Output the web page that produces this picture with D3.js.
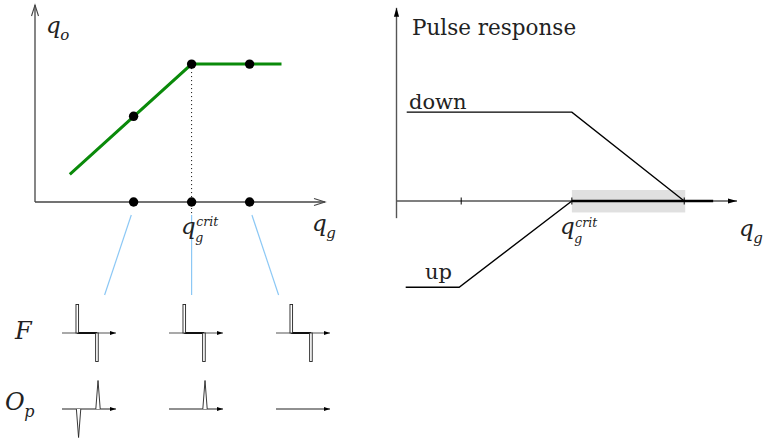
<!DOCTYPE html>
<html><head><meta charset="utf-8">
<script src="https://cdn.jsdelivr.net/npm/d3@7"></script>
<style>body{margin:0;background:#fff} svg{display:block} text{font-family:"DejaVu Serif", serif;}</style>
</head><body>
<script>
// ---------------- data ----------------
// left panel: output charge q_o versus gate charge q_g
const curveQg = [1.2, 5.4, 8.5];
const curveQo = [1.4, 7.0, 7.0];
const sampleQg = [3.4, 5.4, 7.4];
const sampleQo = [4.35, 7.0, 7.0];
const critQg = 5.4;
// right panel: pulse response versus q_g
const rightTicks = [1.9, 5.15, 8.45];
const downQg = [0.3, 5.15, 8.45];
const downResp = [2.02, 2.02, 0];
const upQg = [0.27, 1.84, 5.15];
const upResp = [-1.96, -1.96, 0];
const bandQg = [5.15, 8.48];
const stableQg = [5.15, 9.3];
// bottom mini plots (one per sample point)
const fPulseT = [0.283, 0.647];
const fPulseA = [1, -1];
const opSpikes = [
  [{t: 0.307, a: -1}, {t: 0.667, a: 1}],
  [{t: 0.667, a: 1}],
  []
];
const rowLabels = ["F", "O"];

// ---------------- drawing ----------------
const W = 764, H = 441;
const svg = d3.select("body").append("svg").attr("width", W).attr("height", H);

const defs = svg.append("defs");
defs.append("marker").attr("id", "open").attr("viewBox", "-12 -5 14 10")
  .attr("refX", 0).attr("refY", 0).attr("markerWidth", 14).attr("markerHeight", 10)
  .attr("markerUnits", "userSpaceOnUse").attr("orient", "auto")
  .append("path").attr("d", "M-11,-3.5 L0,0 L-11,3.5").attr("fill", "none")
  .attr("stroke", "#444").attr("stroke-width", 1.1);
defs.append("marker").attr("id", "fill").attr("viewBox", "-10 -4 12 8")
  .attr("refX", 0).attr("refY", 0).attr("markerWidth", 12).attr("markerHeight", 8)
  .attr("markerUnits", "userSpaceOnUse").attr("orient", "auto")
  .append("path").attr("d", "M-9,-2.6 L0,0 L-9,2.6 Z").attr("fill", "#000");
defs.append("marker").attr("id", "small").attr("viewBox", "-7 -3 8 6")
  .attr("refX", 0).attr("refY", 0).attr("markerWidth", 8).attr("markerHeight", 6)
  .attr("markerUnits", "userSpaceOnUse").attr("orient", "auto")
  .append("path").attr("d", "M-6,-2 L0,0 L-6,2 Z").attr("fill", "#000");

function mathLabel(x, y, base, sub, sup, size, subSize) {
  const ss = subSize || size * 0.68;
  const t = svg.append("text").attr("x", x).attr("y", y)
    .style("font-style", "italic").style("font-size", size + "px").attr("fill", "#222");
  t.append("tspan").text(base);
  const bw = t.node().getComputedTextLength();
  if (sup) t.append("tspan").attr("x", x + bw + 0.5).attr("y", y - 7.5)
      .style("font-size", ss + "px").text(sup);
  if (sub) t.append("tspan").attr("x", x + bw - 0.5).attr("y", y + (sup ? 8.5 : 6.5))
      .style("font-size", ss + "px").text(sub);
  return t;
}

// ----- left panel -----
const xL = d3.scaleLinear().domain([0, 10]).range([35, 325]);
const yL = d3.scaleLinear().domain([0, 10]).range([202, 5]);
const gL = svg.append("g");
gL.append("line").attr("x1", xL(0)).attr("x2", xL(10)).attr("y1", yL(0)).attr("y2", yL(0))
  .attr("stroke", "#444").attr("stroke-width", 1.3).attr("marker-end", "url(#open)");
gL.append("line").attr("x1", xL(0)).attr("x2", xL(0)).attr("y1", yL(0)).attr("y2", yL(10))
  .attr("stroke", "#444").attr("stroke-width", 1.3).attr("marker-end", "url(#open)");

// dotted critical line
gL.append("line").attr("x1", xL(critQg)).attr("x2", xL(critQg))
  .attr("y1", yL(7.0)).attr("y2", yL(-0.65))
  .attr("stroke", "#000").attr("stroke-width", 1).attr("stroke-dasharray", "1 3");

// blue connectors
const fanY = d3.scaleLinear().domain([0, 1]).range([215, 295]);
const fanK = d3.scaleLinear().domain([0, 1]).range([1.04, 1.5]);
sampleQg.forEach(q => {
  const d = xL(q) - xL(critQg);
  gL.append("line")
    .attr("x1", xL(critQg) + d * fanK(0)).attr("y1", fanY(0))
    .attr("x2", xL(critQg) + d * fanK(1)).attr("y2", fanY(1))
    .attr("stroke", "#8cc8f5").attr("stroke-width", 1.2);
});

const line = d3.line();
gL.append("path").attr("d", line(curveQg.map((q, i) => [xL(q), yL(curveQo[i])])))
  .attr("fill", "none").attr("stroke", "#0a8a0a").attr("stroke-width", 3);
sampleQg.forEach((q, i) => {
  gL.append("circle").attr("cx", xL(q)).attr("cy", yL(sampleQo[i])).attr("r", 4.7).attr("fill", "#000");
  gL.append("circle").attr("cx", xL(q)).attr("cy", yL(0)).attr("r", 4.7).attr("fill", "#000");
});

mathLabel(46, 33, "q", "o", null, 23, 15);
mathLabel(181, 233.5, "q", "g", "crit", 23, 12.5);
mathLabel(312, 231, "q", "g", null, 23, 15);

// ----- bottom mini plots -----
const px = d3.scalePoint().domain([0, 1, 2]).range([62, 276]);
const mx = d3.scaleLinear().domain([0, 1]).range([0, 54]);
const my = d3.scaleLinear().domain([-1, 1]).range([28.5, -28.5]);
const fY = 333, oY = 409;
[0, 1, 2].forEach(i => {
  const g = svg.append("g").attr("transform", `translate(${px(i)},0)`);
  // F row
  g.append("line").attr("x1", mx(0)).attr("x2", mx(1)).attr("y1", fY).attr("y2", fY)
    .attr("stroke", "#555").attr("stroke-width", 1.2).attr("marker-end", "url(#small)");
  g.append("line").attr("x1", mx(fPulseT[0])).attr("x2", mx(fPulseT[1])).attr("y1", fY).attr("y2", fY)
    .attr("stroke", "#111").attr("stroke-width", 2);
  fPulseT.forEach((t, k) => {
    const yTop = Math.min(fY, fY + my(fPulseA[k])), h = Math.abs(my(fPulseA[k]));
    g.append("rect").attr("x", mx(t) - 1.3).attr("width", 2.6).attr("y", yTop).attr("height", h)
      .attr("fill", "#fff").attr("stroke", "#222").attr("stroke-width", 0.9);
  });
  // O_p row
  g.append("line").attr("x1", mx(0)).attr("x2", mx(1)).attr("y1", oY).attr("y2", oY)
    .attr("stroke", "#222").attr("stroke-width", 1.2).attr("marker-end", "url(#small)");
  opSpikes[i].forEach(s => {
    g.append("path").attr("d", line([[mx(s.t) - 2.2, oY], [mx(s.t), oY + my(s.a)], [mx(s.t) + 2.2, oY]]))
      .attr("fill", "#fff").attr("stroke", "#222").attr("stroke-width", 0.9);
  });
});
svg.append("text").attr("x", 15).attr("y", 339)
  .style("font-style", "italic").style("font-size", "24px").attr("fill", "#222").text(rowLabels[0]);
mathLabel(5, 410, rowLabels[1], "p", null, 24, 16);

// ----- right panel -----
const xR = d3.scaleLinear().domain([0, 10]).range([396.5, 737]);
const yR = d3.scaleLinear().domain([-2, 4]).range([289, 25]);
const gR = svg.append("g");
gR.append("rect").attr("x", xR(bandQg[0])).attr("width", xR(bandQg[1]) - xR(bandQg[0]))
  .attr("y", yR(0.25)).attr("height", yR(-0.26) - yR(0.25)).attr("fill", "#e0e0e0");
gR.append("line").attr("x1", xR(0)).attr("x2", xR(10)).attr("y1", yR(0)).attr("y2", yR(0))
  .attr("stroke", "#000").attr("stroke-width", 1.2).attr("marker-end", "url(#fill)");
gR.append("line").attr("x1", xR(0)).attr("x2", xR(0)).attr("y1", yR(-0.39)).attr("y2", yR(4.39))
  .attr("stroke", "#555").attr("stroke-width", 1.4).attr("marker-end", "url(#fill)");
gR.append("line").attr("x1", xR(stableQg[0])).attr("x2", xR(stableQg[1])).attr("y1", yR(0)).attr("y2", yR(0))
  .attr("stroke", "#000").attr("stroke-width", 2.6);
rightTicks.forEach(t => {
  gR.append("line").attr("x1", xR(t)).attr("x2", xR(t)).attr("y1", yR(0) - 3.5).attr("y2", yR(0) + 3.5)
    .attr("stroke", "#000").attr("stroke-width", 1);
});
gR.append("path").attr("d", line(downQg.map((q, i) => [xR(q), yR(downResp[i])])))
  .attr("fill", "none").attr("stroke", "#000").attr("stroke-width", 1.4);
gR.append("path").attr("d", line(upQg.map((q, i) => [xR(q), yR(upResp[i])])))
  .attr("fill", "none").attr("stroke", "#000").attr("stroke-width", 1.4);

function plain(x, y, s, size) {
  svg.append("text").attr("x", x).attr("y", y)
    .style("font-size", size + "px").attr("fill", "#222").text(s);
}
plain(412, 35, "Pulse response", 21.5);
plain(409, 108.5, "down", 21);
plain(425, 278.5, "up", 21);
mathLabel(560, 234, "q", "g", "crit", 23, 12.5);
mathLabel(739, 236, "q", "g", null, 23, 15);
</script>
</body></html>
